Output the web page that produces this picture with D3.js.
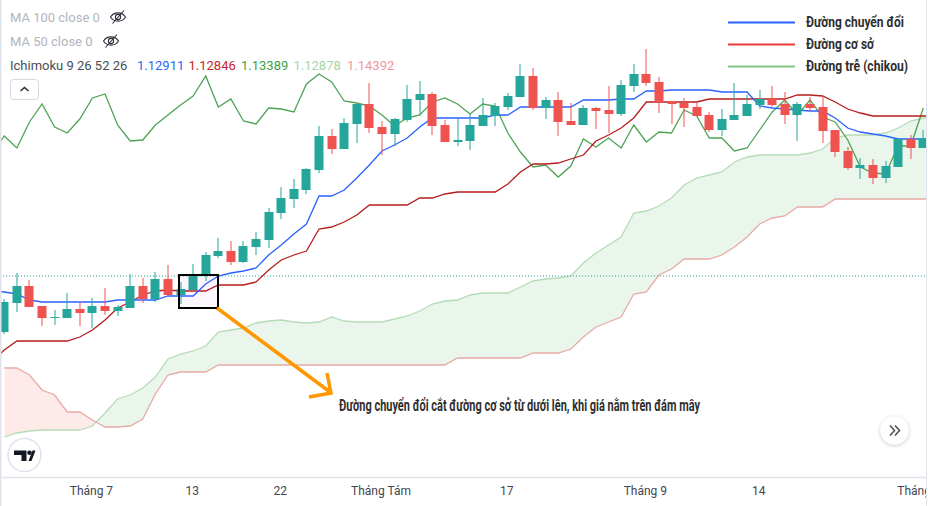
<!DOCTYPE html>
<html>
<head>
<meta charset="utf-8">
<script src="https://cdn.jsdelivr.net/npm/d3@7"></script>
<style>
    html, body { margin: 0; padding: 0; background: #fff; }
    svg { display: block; }
    .pane { font-family: Roboto, "Liberation Sans", sans-serif; }
    .note { font-family: Roboto, "Liberation Sans", sans-serif; font-weight: 700; fill: #2e2e2e; }
</style>
</head>
<body>
<div id="chart"></div>
<script>
// prices are pips above 1.1000, candles run left to right by bar number
const opens = [168,197,214,194,182,182,191,187,194,189,192,214,201,221,205,210,224,244,249,238,253,260,287,301,310,330,364,351,376,396,373,366,380,400,406,375,358,359,374,384,393,403,424,392,400,379,375,392,390,386,414,426,418,399,397,393,385,370,380,384,395,401,396,385,396,393,370,349,332,335,322,333,361,352];
const highs = [201,227,220,194,190,207,198,202,212,195,226,222,228,235,218,236,248,262,259,259,268,292,313,321,332,374,371,382,396,417,379,382,415,419,408,380,383,386,402,397,407,436,432,403,408,397,395,393,414,420,436,451,423,399,402,398,388,391,417,405,410,414,408,398,403,404,370,353,342,341,339,361,365,370];
const lows = [166,188,193,174,175,182,174,172,185,184,192,197,198,204,196,210,219,242,235,237,245,252,281,292,306,327,346,351,357,367,345,354,378,385,365,358,354,350,374,374,390,403,390,381,364,375,375,371,367,384,408,414,387,376,373,384,368,364,380,384,391,393,376,359,389,357,343,330,321,316,317,333,341,352];
const closes = [198,214,193,182,183,191,187,194,189,193,214,201,221,205,211,225,245,249,238,254,261,288,302,311,331,364,351,377,396,372,366,381,401,406,374,358,360,375,385,394,404,424,392,400,378,375,392,389,386,415,426,417,398,396,392,384,370,381,385,396,401,395,385,396,392,369,348,332,335,322,334,361,352,362];

// indicator lines, first value is bar -1 so they reach the left edge
const conversion = [209,208,206,200,198,198,198,198,198,198,200,200,200,200,204,204,204,216,224,227,229,232,245,255,266,276,304,304,310,322,335,349,355,362,373,382,382,382,382,382,385,385,393,393,393,393,393,400,400,400,401,401,409,409,410,410,410,410,408,408,408,394,392,391,390,389,389,382,372,368,366,364,361,361,361,361];
const base = [138,150,159,159,159,159,159,163,170,180,192,198,205,209,210,209,209,209,215,215,215,218,230,240,245,249,271,273,278,285,295,295,295,295,302,302,306,308,308,308,308,316,328,336,336,337,341,345,359,365,372,382,398,398,398,398,398,401,401,401,401,401,401,401,405,405,404,398,391,387,384,384,384,384,384,384];
const chikou = [346,364,352,378,396,373,367,381,402,406,375,359,360,375,385,395,404,424,393,401,379,376,392,391,388,416,426,418,399,397,394,385,374,382,385,398,402,396,386,396,394,367,348,333,335,323,334,361,353,362,352,375,358,368,367,390,384,362,362,349,352,370,388,400,385,400,383,378,360,333,327,326,354,354,392];

// cloud edges start at bar 0
const spanA = [63,67,69,70,70,70,70,74,87,101,105,112,123,141,146,149,154,168,170,172,177,179,180,178,177,178,183,179,178,178,178,181,184,189,196,199,200,205,207,207,207,213,219,221,222,224,237,247,255,263,287,289,294,302,315,322,325,328,338,343,345,345,345,345,347,351,362,365,365,365,367,372,379,382,384];
const spanB = [132,132,125,110,105,88,88,80,73,73,74,81,106,125,128,128,128,135,135,135,135,135,135,135,135,135,135,135,135,135,135,135,135,135,135,135,142,142,142,142,142,142,147,147,147,151,163,173,178,183,206,208,225,231,241,241,241,245,253,263,276,282,284,293,293,293,301,301,301,301,301,301,301,301,301];

const lastPrice = 224;
const tickBars = [7,15,22,30,40,51,60,73];
const tickLabels = ['Tháng 7','13','22','Tháng Tám','17','Tháng 9','14','Tháng 10'];

const maLegend = ['MA 100 close 0','MA 50 close 0'];
const ichimokuTitle = 'Ichimoku 9 26 52 26';
const ichimokuValues = ['1.12911','1.12846','1.13389','1.12878','1.14392'];
const ichimokuColors = ['#2962ff','#c62828','#43a047','#a5d6a7','#ef9a9a'];
const keyLabels = ['Đường chuyển đổi','Đường cơ sở','Đường trễ (chikou)'];
const keyColors = ['#2962ff','#e53935','#81c784'];
const keyWidths = [98,68,102];
const noteText = 'Đường chuyển đổi cắt đường cơ sở từ dưới lên, khi giá nằm trên đám mây';

const width = 928, height = 506, paneRight = 926, axisY = 477.5;
const upColor = '#26a69a', downColor = '#ef5350';

const x = d3.scaleLinear().domain([0, 73]).range([4.3, 923.3]);
const y = d3.scaleLinear().domain([0, 500]).range([500, 0]);

const svg = d3.select('#chart').append('svg')
    .attr('class', 'pane')
    .attr('width', width)
    .attr('height', height);

const defs = svg.append('defs');
defs.append('clipPath').attr('id', 'pane-clip').append('rect')
    .attr('x', 0).attr('y', 0).attr('width', paneRight).attr('height', height);

// cloud: one shape clipped twice, green where A is above B and red where below
const edgeOf = d => d3.line().x((v, i) => x(i)).y(v => y(v))(d);
const cloud = d3.area()
    .x((v, i) => x(i))
    .y0(v => y(v))
    .y1((v, i) => y(spanB[i]));
const overB = d3.area().x((v, i) => x(i)).y0(v => y(v)).y1(0);
const underB = d3.area().x((v, i) => x(i)).y0(v => y(v)).y1(axisY);
defs.append('clipPath').attr('id', 'over-b').append('path').attr('d', overB(spanB));
defs.append('clipPath').attr('id', 'under-b').append('path').attr('d', underB(spanB));

const pane = svg.append('g').attr('clip-path', 'url(#pane-clip)');
pane.append('g').attr('clip-path', 'url(#over-b)').append('path')
    .attr('d', cloud(spanA)).attr('fill', '#43a047').attr('fill-opacity', 0.11);
pane.append('g').attr('clip-path', 'url(#under-b)').append('path')
    .attr('d', cloud(spanA)).attr('fill', '#f44336').attr('fill-opacity', 0.11);
pane.append('path').attr('d', edgeOf(spanA)).attr('fill', 'none').attr('stroke', '#b5dcb7').attr('stroke-width', 1.3);
pane.append('path').attr('d', edgeOf(spanB)).attr('fill', 'none').attr('stroke', '#e8aaa4').attr('stroke-width', 1.3);

pane.append('line')
    .attr('x1', 0).attr('x2', paneRight)
    .attr('y1', y(lastPrice)).attr('y2', y(lastPrice))
    .attr('stroke', upColor).attr('stroke-dasharray', '1 2');

// lines start one bar before the first candle
const indicator = d3.line().x((v, i) => x(i - 1)).y(v => y(v));
[[chikou, '#4ea354'], [base, '#b71c1c'], [conversion, '#2962ff']].forEach(([values, color]) => {
    pane.append('path')
        .attr('d', indicator(values))
        .attr('fill', 'none')
        .attr('stroke', color)
        .attr('stroke-width', 1.3);
});

// candles
const bars = pane.append('g').selectAll('g').data(d3.range(opens.length)).join('g')
    .attr('fill', i => closes[i] >= opens[i] ? upColor : downColor);
bars.append('rect')
    .attr('x', i => Math.round(x(i)) - 0.5)
    .attr('width', 1)
    .attr('y', i => y(highs[i]))
    .attr('height', i => y(lows[i]) - y(highs[i]));
bars.append('rect')
    .attr('x', i => Math.round(x(i)) - 4.5)
    .attr('width', 9)
    .attr('y', i => y(Math.max(opens[i], closes[i])))
    .attr('height', i => Math.max(1, Math.abs(opens[i] - closes[i])));

// time axis, labels sit a little left of their bar
const axis = svg.append('g')
    .attr('clip-path', 'url(#pane-clip)')
    .append('g')
    .attr('transform', `translate(0,${axisY})`)
    .call(d3.axisBottom(x)
        .tickValues(tickBars)
        .tickFormat((d, i) => tickLabels[i])
        .tickSize(0)
        .tickPadding(9));
axis.select('.domain').attr('d', `M0,0H${paneRight}`).attr('stroke', '#e0e3eb').attr('stroke-width', 1.5);
axis.selectAll('text').attr('font-family', 'Roboto, "Liberation Sans", sans-serif')
    .attr('font-size', 12).attr('fill', '#42454f').attr('dx', -1.5);

// pane edges
svg.append('rect').attr('x', 0).attr('y', 0).attr('width', 1.5).attr('height', height).attr('fill', '#e0e3eb');
svg.append('rect').attr('x', paneRight).attr('y', 0).attr('width', 1).attr('height', height).attr('fill', '#e0e3eb');

// legend, top left
function eyeOff(cx, cy) {
    const g = svg.append('g').attr('transform', `translate(${cx},${cy})`)
        .attr('fill', 'none').attr('stroke', '#2a2e39').attr('stroke-width', 1.1);
    g.append('path').attr('d', 'M-7.5,0C-4,-5.5 4,-5.5 7.5,0C4,5.5 -4,5.5 -7.5,0Z');
    g.append('circle').attr('r', 2.6);
    g.append('path').attr('d', 'M-5.5,6.5L6,-6.5');
}
maLegend.forEach((label, i) => {
    svg.append('text').attr('x', 10).attr('y', 22 + i * 24)
        .attr('font-size', 13).attr('fill', '#b2b5be').text(label);
});
eyeOff(118, 17);
eyeOff(111, 41);

svg.append('text').attr('x', 10).attr('y', 70).attr('font-size', 13).attr('fill', '#4a4d57').text(ichimokuTitle);
const valueX = [137, 188.5, 241, 293.5, 347];
ichimokuValues.forEach((label, i) => {
    svg.append('text').attr('x', valueX[i]).attr('y', 70)
        .attr('font-size', 13).attr('fill', ichimokuColors[i]).text(label);
});

svg.append('rect').attr('x', 10.5).attr('y', 79.5).attr('width', 28).attr('height', 20).attr('rx', 3)
    .attr('fill', '#fff').attr('stroke', '#d6d8e0');
svg.append('path').attr('d', 'M20.5,91L24.5,87.5L28.5,91').attr('fill', 'none').attr('stroke', '#2a2e39').attr('stroke-width', 1.6);

// key, top right, squeezed to the condensed look of the original
keyLabels.forEach((label, i) => {
    const rowY = 22.5 + i * 22;
    svg.append('line').attr('x1', 728).attr('x2', 795).attr('y1', rowY).attr('y2', rowY)
        .attr('stroke', keyColors[i]).attr('stroke-width', 2);
    svg.append('text').attr('class', 'note').attr('x', 806).attr('y', rowY + 4.5)
        .attr('font-size', 15)
        .attr('textLength', keyWidths[i]).attr('lengthAdjust', 'spacingAndGlyphs')
        .text(label);
});

// highlighted crossing and the arrow pointing at the note
svg.append('rect').attr('x', 179).attr('y', 275).attr('width', 39).attr('height', 33)
    .attr('fill', '#9c27b0').attr('fill-opacity', 0.04)
    .attr('stroke', '#000').attr('stroke-width', 2);
svg.append('path').attr('d', 'M217,308L330,392M327,373L331,393L309,397')
    .attr('fill', 'none').attr('stroke', '#ff9800').attr('stroke-width', 3.5);
svg.append('text').attr('class', 'note').attr('x', 339).attr('y', 411)
    .attr('font-size', 16)
    .attr('textLength', 361).attr('lengthAdjust', 'spacingAndGlyphs')
    .text(noteText);

// TradingView badge
const badge = svg.append('g').attr('transform', 'translate(24.5,455)');
badge.append('circle').attr('r', 16.5).attr('fill', '#fff').attr('stroke', '#e0e3eb').attr('stroke-width', 1.5);
badge.append('path').attr('d', 'M-10.5,-4.5H2V6H-3V0H-10.5Z').attr('fill', '#131722');
badge.append('circle').attr('cx', 5).attr('cy', -2.2).attr('r', 2.3).attr('fill', '#131722');
badge.append('path').attr('d', 'M4,6L8,-4.5H11L7,6Z').attr('fill', '#131722');

// scroll button
defs.append('filter').attr('id', 'soft').append('feDropShadow')
    .attr('dx', 0).attr('dy', 1).attr('stdDeviation', 2).attr('flood-opacity', 0.22);
const scroll = svg.append('g').attr('transform', 'translate(894.5,430.5)');
scroll.append('circle').attr('r', 14).attr('fill', '#fff').attr('filter', 'url(#soft)');
scroll.append('path').attr('d', 'M-4.5,-5L0,0L-4.5,5M0.5,-5L5,0L0.5,5')
    .attr('fill', 'none').attr('stroke', '#50535e').attr('stroke-width', 1.6);
</script>
</body>
</html>
